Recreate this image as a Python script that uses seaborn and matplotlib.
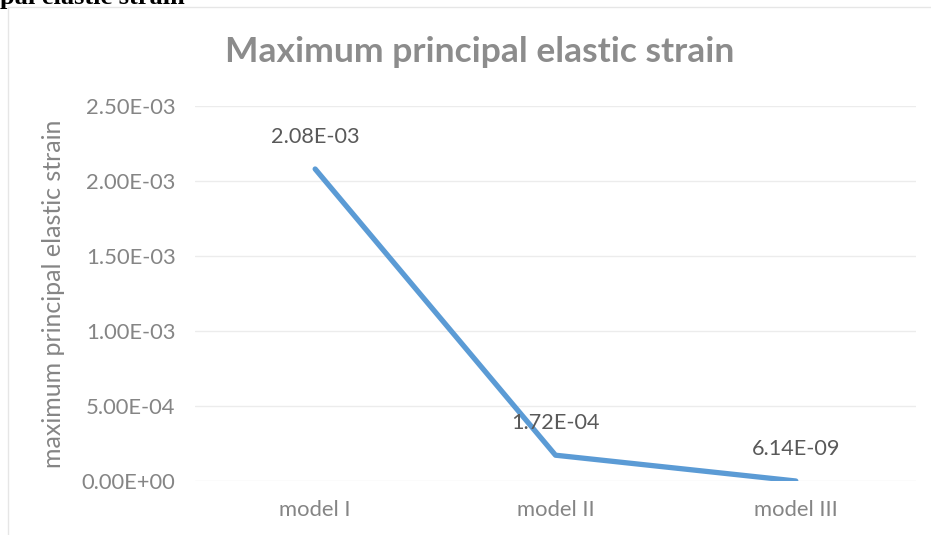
import matplotlib
matplotlib.use("Agg")
import matplotlib.pyplot as plt
import seaborn as sns
import pandas as pd
from matplotlib.patches import Rectangle

# Data
models = ["model I", "model II", "model III"]
strain = [2.08e-03, 1.72e-04, 6.14e-09]
value_labels = ["2.08E-03", "1.72E-04", "6.14E-09"]
y_ticks = [0.0, 5.0e-04, 1.0e-03, 1.5e-03, 2.0e-03, 2.5e-03]
y_tick_labels = ["0.00E+00", "5.00E-04", "1.00E-03", "1.50E-03", "2.00E-03", "2.50E-03"]

df = pd.DataFrame({"model": models, "strain": strain})

sns.set_theme(style="white")
plt.rcParams["font.family"] = ["Lato", "DejaVu Sans"]

fig = plt.figure(figsize=(9.31, 5.35), dpi=100)
ax = fig.add_axes([195 / 931, (535 - 481) / 535, (916 - 195) / 931, (481 - 106) / 535])

# Chart frame
fig.patches.append(Rectangle((8 / 931, -0.1), 1.2, (535 - 7) / 535 + 0.1,
                             transform=fig.transFigure, fill=False,
                             edgecolor="#e6e6e6", linewidth=1))

x_pos = list(range(len(models)))
sns.lineplot(x=x_pos, y=df["strain"], ax=ax, color="#5B9BD5", linewidth=3.8,
             solid_capstyle="round", solid_joinstyle="round")

ax.set_xlim(-0.5, 2.5)
ax.set_ylim(0, 2.5e-03)
ax.set_xticks(x_pos)
ax.set_xticklabels(models)
ax.set_yticks(y_ticks)
ax.set_yticklabels(y_tick_labels)
ax.tick_params(axis="both", length=0, labelsize=15.8, labelcolor="#858585")
ax.tick_params(axis="x", pad=14)
ax.tick_params(axis="y", pad=14)
ax.grid(axis="y", color="#ececec", linewidth=1)
for s in ax.spines.values():
    s.set_visible(False)

ax.set_xlabel("")
ax.set_ylabel("maximum principal elastic strain", fontsize=18, color="#858585", labelpad=12)

for xi, v, lab in zip(x_pos, strain, value_labels):
    ax.annotate(lab, (xi, v), xytext=(0, 16), textcoords="offset points",
                ha="center", va="bottom", fontsize=15.6, color="#595959")

fig.text(480 / 931, (535 - 52) / 535, "Maximum principal elastic strain",
         ha="center", va="center", fontsize=25.5, fontweight="bold", color="#8c8c8c")

# Heading text running off the top edge of the canvas
fig.text(0 / 931, (535 - 4) / 535, "pal elastic strain", ha="left", va="baseline",
         fontsize=19, fontweight="bold", color="black", family="Liberation Serif")

fig.savefig("out.png", dpi=100)
